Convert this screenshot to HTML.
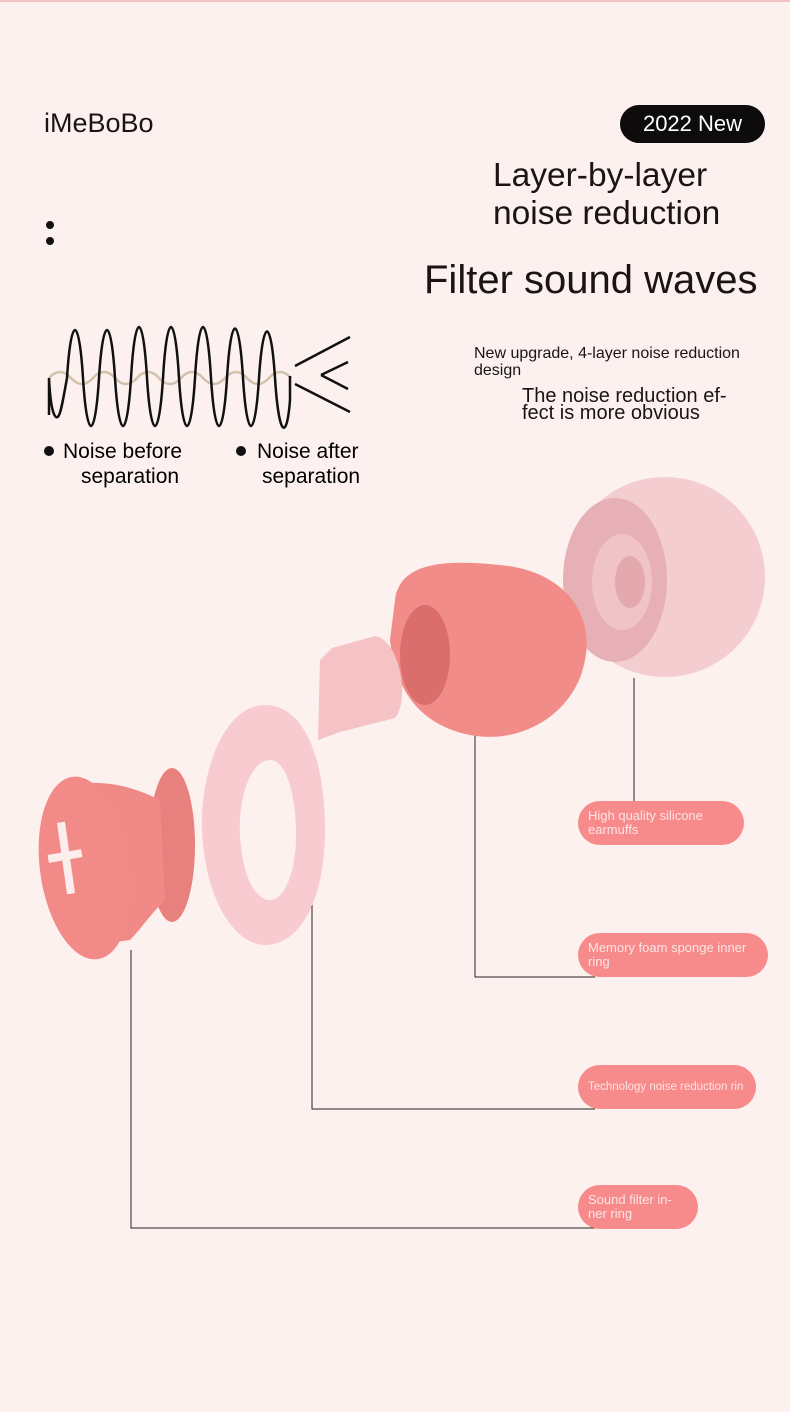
<!DOCTYPE html>
<html><head><meta charset="utf-8"><style>
body{margin:0;width:790px;height:1412px;background:#fdf1f0;position:relative;overflow:hidden;font-family:"Liberation Sans",sans-serif;color:#1a1414}
.a{position:absolute;white-space:nowrap}
.pill{position:absolute;background:#f78b8b;border-radius:22px;color:#fde4e4;font-size:13px;line-height:14px;padding-left:10px;box-sizing:border-box;display:flex;align-items:center}
</style></head><body>
<div style="position:absolute;left:0;top:0;width:790px;height:2px;background:#f2c4c4"></div>
<div class="a" style="left:44px;top:108px;font-size:27px">iMeBoBo</div>
<div class="a" style="left:620px;top:105px;width:145px;height:38px;background:#0d0b0b;border-radius:19px;color:#fff;font-size:22px;line-height:38px;text-align:center">2022 New</div>
<div class="a" style="left:493px;top:157px;font-size:33.5px;line-height:38px">Layer-by-layer<br>noise reduction</div>
<div class="a" style="left:46px;top:221px;width:8px;height:8px;border-radius:50%;background:#111"></div>
<div class="a" style="left:46px;top:237px;width:8px;height:8px;border-radius:50%;background:#111"></div>
<div class="a" style="left:424px;top:256px;font-size:40px;line-height:48px">Filter sound waves</div>
<div class="a" style="left:474px;top:345px;font-size:16px;line-height:17px">New upgrade, 4-layer noise reduction<br>design</div>
<div class="a" style="left:522px;top:388px;font-size:20px;line-height:17px">The noise reduction ef-<br>fect is more obvious</div>
<svg class="a" style="left:0;top:0" width="790" height="1412">
<path d="M49 378 Q60 366 71 378 T93 378 T115 378 T137 378 T159 378 T181 378 T203 378 T225 378 T247 378 T269 378 T291 378" fill="none" stroke="#cfc3ad" stroke-width="2.5"/>
<path fill="none" stroke="#111" stroke-width="2.5" d="M49 415 L49 378 C51 420 57 420 59 415 C61 412 63 400 67 378 C71 314 79 314 83 378 C87 442 95 442 99 378 C103 314 111 314 115 378 C119 442 127 442 131 378 C135 310 143 310 147 378 C151 442 159 442 163 378 C167 310 175 310 179 378 C183 442 191 442 195 378 C199 310 207 310 211 378 C215 442 223 442 227 378 C231 312 239 312 243 378 C247 442 255 442 259 378 C263 316 271 316 275 378 C279 440 287 440 290 400 L290 376"/>
<path d="M295 366 L350 337 M295 384 L350 412 M321 375 L348 362 M321 375 L348 389" stroke="#111" stroke-width="2.5" fill="none"/>
<circle cx="49" cy="451" r="5" fill="#111"/><circle cx="241" cy="451" r="5" fill="#111"/>
<text x="63" y="458" font-size="21" font-family="Liberation Sans">Noise before</text>
<text x="81" y="483" font-size="21" font-family="Liberation Sans">separation</text>
<text x="257" y="458" font-size="21" font-family="Liberation Sans">Noise after</text>
<text x="262" y="483" font-size="21" font-family="Liberation Sans">separation</text>
<path d="M634 678 V801 M475 735 V977 H595 M312 895 V1109 H595 M131 950 V1228 H595" stroke="#222" stroke-width="1" fill="none"/>
<!-- silicone dome -->
<ellipse cx="665" cy="577" rx="100" ry="100" fill="#f4cdd1"/>
<ellipse cx="615" cy="580" rx="52" ry="82" fill="#e6b0b6"/>
<ellipse cx="622" cy="582" rx="30" ry="48" fill="#f0c4c7"/>
<ellipse cx="630" cy="582" rx="15" ry="26" fill="#e4a9ae"/>
<!-- foam -->
<path d="M395 600 C400 560 450 560 500 565 C560 570 595 610 585 660 C575 715 520 745 470 735 C420 725 395 690 390 640 Z" fill="#f18c89"/>
<ellipse cx="425" cy="655" rx="25" ry="50" fill="#d96e6c"/>
<!-- stem -->
<path d="M320 660 L332 648 L375 636 C400 640 410 700 395 718 L340 732 L318 740 Z" fill="#f5c2c6"/>
<!-- ring -->
<path d="M265 705 C225 705 200 770 202 830 C205 900 235 945 265 945 C300 945 325 900 325 830 C325 760 305 705 265 705 Z M270 760 C250 760 238 800 240 835 C242 875 255 900 270 900 C285 900 297 870 296 830 C295 790 285 760 270 760 Z" fill="#f7cbd0" fill-rule="evenodd"/>
<!-- cap -->
<ellipse cx="172" cy="845" rx="23" ry="77" fill="#e8807e"/>
<path d="M70 785 C110 778 140 790 160 800 L165 900 C150 915 140 930 130 940 L95 945 Z" fill="#f08a87"/>
<ellipse cx="85" cy="868" rx="45" ry="92" fill="#f28a87" transform="rotate(-8 85 868)"/>
<rect x="48" y="852" width="34" height="8" fill="#fdeeee" transform="rotate(-10 65 856)"/>
<rect x="62" y="822" width="8" height="72" fill="#fdeeee" transform="rotate(-8 66 858)"/>
</svg>
<div class="pill" style="left:578px;top:801px;width:166px;height:44px">High quality silicone<br>earmuffs</div>
<div class="pill" style="left:578px;top:933px;width:190px;height:44px">Memory foam sponge inner<br>ring</div>
<div class="pill" style="left:578px;top:1065px;width:178px;height:44px;font-size:11.5px;overflow:hidden">Technology noise reduction rin</div>
<div class="pill" style="left:578px;top:1185px;width:120px;height:44px">Sound filter in-<br>ner ring</div>
</body></html>
